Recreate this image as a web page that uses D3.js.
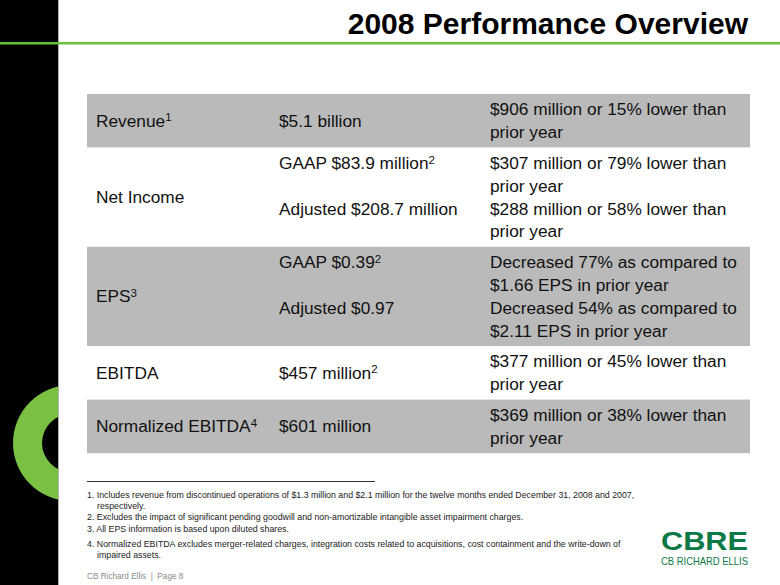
<!DOCTYPE html>
<html>
<head>
<meta charset="utf-8">
<script src="https://cdn.jsdelivr.net/npm/d3@7"></script>
<style>
  html, body { margin: 0; padding: 0; background: #fff; }
  svg { display: block; }
  text { font-family: "Liberation Sans", Arial, Helvetica, sans-serif; }
</style>
</head>
<body>
<svg id="chart" width="780" height="585"></svg>
<script>
// ---------- data ----------
const title = "2008 Performance Overview";
const metrics = ["Revenue", "Net Income", "EPS", "EBITDA", "Normalized EBITDA"];
const metricNotes = ["1", "", "3", "", "4"];
const amounts = [
  ["$5.1 billion"],
  ["GAAP $83.9 million", "Adjusted $208.7 million"],
  ["GAAP $0.39", "Adjusted $0.97"],
  ["$457 million"],
  ["$601 million"]
];
const amountNotes = [
  [""],
  ["2", ""],
  ["2", ""],
  ["2"],
  [""]
];
const comparisons = [
  [["$906 million or 15% lower than", "prior year"]],
  [["$307 million or 79% lower than", "prior year"], ["$288 million or 58% lower than", "prior year"]],
  [["Decreased 77% as compared to", "$1.66 EPS in prior year"], ["Decreased 54% as compared to", "$2.11 EPS in prior year"]],
  [["$377 million or 45% lower than", "prior year"]],
  [["$369 million or 38% lower than", "prior year"]]
];
const footnotes = [
  ["1. Includes revenue from discontinued operations of $1.3 million and $2.1 million for the twelve months ended December 31, 2008 and 2007,", "respectively."],
  ["2. Excludes the impact of significant pending goodwill and non-amortizable intangible asset impairment charges."],
  ["3. All EPS information is based upon diluted shares."],
  ["4. Normalized EBITDA excludes merger-related charges, integration costs related to acquisitions, cost containment and the write-down of", "impaired assets."]
];
const pageLabel = "CB Richard Ellis  |  Page 8";
const logoMark = "CBRE";
const logoName = "CB RICHARD ELLIS";

// ---------- layout ----------
const svg = d3.select("#chart");
const W = 780, H = 585;

// left black band with green ring
svg.append("defs").append("clipPath").attr("id", "leftClip")
  .append("rect").attr("x", 0).attr("y", 0).attr("width", 58).attr("height", H);
svg.append("rect").attr("x", 0).attr("y", 0).attr("width", 58).attr("height", H).attr("fill", "#000");
const ring = d3.arc().innerRadius(29).outerRadius(58).startAngle(0).endAngle(2 * Math.PI);
svg.append("g").attr("clip-path", "url(#leftClip)")
  .append("path").attr("d", ring()).attr("transform", "translate(71,443)").attr("fill", "#7ac143");
svg.append("line").attr("x1", 58.5).attr("x2", 58.5).attr("y1", 0).attr("y2", H)
  .attr("stroke", "#b0b0b0").attr("stroke-width", 1);

// green header rule
svg.append("rect").attr("x", 0).attr("y", 42).attr("width", W).attr("height", 2.5).attr("fill", "#66c43a");

// title
svg.append("text").attr("x", 748).attr("y", 34).attr("text-anchor", "end")
  .attr("font-size", 30).attr("font-weight", "bold").attr("fill", "#000").text(title);

// ---------- table ----------
const tableX = 87, tableW = 663, tableTop = 94;
const pad = 4, lineH = 22.8;
const col1 = 96, col2 = 279, col3 = 490;
const fs = 17.3;

const rowLines = comparisons.map(c => d3.sum(c, s => s.length));
const rowHeights = rowLines.map(n => pad * 2 + lineH * n);
const rowTops = rowHeights.map((h, i) => tableTop + d3.sum(rowHeights.slice(0, i)));

const rows = svg.append("g").selectAll("g.row")
  .data(metrics.map((m, i) => ({ i, m })))
  .join("g").attr("class", "row");

rows.append("rect")
  .attr("x", tableX).attr("y", d => rowTops[d.i])
  .attr("width", tableW).attr("height", d => rowHeights[d.i])
  .attr("fill", d => d.i % 2 === 0 ? "#bababa" : "#ffffff");

function addText(g, x, y, txt, note) {
  const t = g.append("text").attr("x", x).attr("y", y)
    .attr("font-size", fs).attr("fill", "#111");
  t.append("tspan").text(txt);
  if (note) {
    t.append("tspan").attr("font-size", 11.5).attr("dy", -5.5).text(note);
  }
  return t;
}

rows.each(function (d) {
  const g = d3.select(this);
  const top = rowTops[d.i], h = rowHeights[d.i];
  addText(g, col1, top + h / 2 + 6, d.m, metricNotes[d.i]);
  let line = 0;
  comparisons[d.i].forEach((seg, k) => {
    const firstBase = top + pad + lineH * line + lineH / 2 + 6;
    if (comparisons[d.i].length === 1) {
      addText(g, col2, top + h / 2 + 6, amounts[d.i][k], amountNotes[d.i][k]);
    } else {
      addText(g, col2, firstBase, amounts[d.i][k], amountNotes[d.i][k]);
    }
    seg.forEach((s, j) => {
      addText(g, col3, top + pad + lineH * (line + j) + lineH / 2 + 6, s, "");
    });
    line += seg.length;
  });
});

// ---------- footnotes ----------
svg.append("line").attr("x1", 87).attr("x2", 375).attr("y1", 481.5).attr("y2", 481.5)
  .attr("stroke", "#333").attr("stroke-width", 1);

const fnBase = [498, 519.5, 531.5, 546.5];
const fnG = svg.append("g");
footnotes.forEach((lines, i) => {
  lines.forEach((l, j) => {
    fnG.append("text").attr("x", j === 0 ? 87 : 97).attr("y", fnBase[i] + j * 11)
      .attr("font-size", 8.8).attr("fill", "#222").text(l);
  });
});

svg.append("text").attr("x", 87).attr("y", 579).attr("font-size", 8.2)
  .attr("fill", "#8a8a8a").attr("xml:space", "preserve").style("white-space", "pre").text(pageLabel);

// ---------- logo ----------
svg.append("text").attr("x", 661).attr("y", 549.5)
  .attr("font-size", 25).attr("font-weight", "bold").attr("fill", "#0b7a46")
  .attr("textLength", 87).attr("lengthAdjust", "spacingAndGlyphs").text(logoMark);
svg.append("text").attr("x", 661).attr("y", 564.5)
  .attr("font-size", 11).attr("fill", "#0b7a46")
  .attr("textLength", 87).attr("lengthAdjust", "spacingAndGlyphs").text(logoName);
</script>
</body>
</html>
